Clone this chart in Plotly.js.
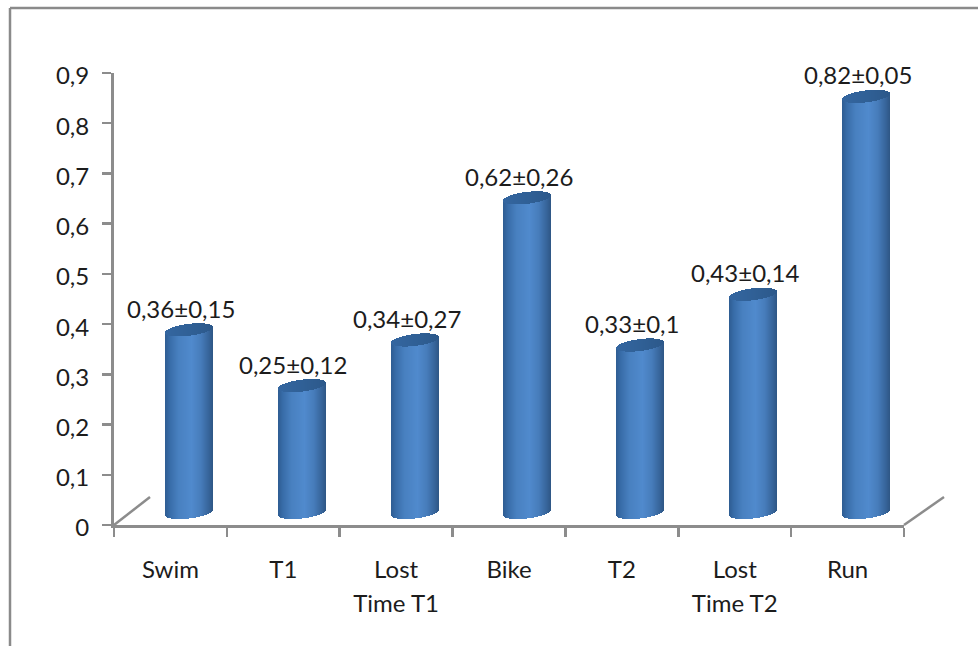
<!DOCTYPE html>
<html><head><meta charset="utf-8">
<script src="https://cdn.plot.ly/plotly-3.0.1.min.js"></script>
<style>html,body{margin:0;padding:0;background:#fff}</style>
</head><body><div id="chart" style="width:978px;height:646px"></div>
<script>
const categories = ["Swim","T1","Lost Time T1","Bike","T2","Lost Time T2","Run"];
const tickLines = [["Swim"],["T1"],["Lost","Time T1"],["Bike"],["T2"],["Lost","Time T2"],["Run"]];
const values = [0.36,0.25,0.34,0.62,0.33,0.43,0.82];
const errors = ["0,15","0,12","0,27","0,26","0,1","0,14","0,05"];
const labelShift = [-8,-9,-8,-8,-8,-8,-8];

const W=978,H=646,L=114,R=904,T=73,B=525;
const FONT='Lato, "Noto Sans", sans-serif', GREY='#8c8c8c', TXT='#1c1c1c', FS=24;
const pxPerCat=112.8, cx0=189, pxPerUnit=507.5, zeroPy=512.5;
const x2range=[(L-cx0)/pxPerCat,(R-cx0)/pxPerCat];
const y2range=[(zeroPy-B)/pxPerUnit,(zeroPy-T)/pxPerUnit];
const halfW=24/pxPerCat, ell=6/pxPerUnit, tilt=2.8/pxPerUnit, N=48;

function mix(stops,t){
  let i=0; while(i<stops.length-2 && t>stops[i+1][0]) i++;
  const a=stops[i],b=stops[i+1],f=Math.min(1,Math.max(0,(t-a[0])/(b[0]-a[0])));
  const c=[0,1,2].map(k=>Math.round(a[1][k]+(b[1][k]-a[1][k])*f));
  return `rgb(${c[0]},${c[1]},${c[2]})`;
}
const bodyStops=[[0,[46,92,146]],[0.1,[56,108,168]],[0.28,[72,128,192]],[0.55,[80,138,205]],[0.75,[70,124,186]],[0.9,[56,102,156]],[1,[46,86,132]]];
const capStops=[[0,[52,102,160]],[0.5,[48,96,150]],[1,[44,88,138]]];

const bx=[],bb=[],bh=[],bc=[],cx=[],cb=[],ch=[],cc=[];
values.forEach((v,i)=>{
  for(let k=0;k<N;k++){
    const t=(k+0.5)/N,u=2*t-1,s=Math.sqrt(1-u*u),x=i+u*halfW;
    const lo=-ell*s+tilt*u, topFront=v-ell*s+tilt*u, topBack=v+ell*s+tilt*u;
    bx.push(x);bb.push(lo);bh.push(topFront-lo);bc.push(mix(bodyStops,t));
    cx.push(x);cb.push(topFront);ch.push(topBack-topFront);cc.push(mix(capStops,t));
  }
});
const stripW=2*halfW/N;
const traces=[
 {type:'scatter',mode:'none',x:categories,y:values,xaxis:'x',yaxis:'y',hoverinfo:'skip',showlegend:false},
 {type:'bar',x:bx,y:bh,base:bb,width:stripW,marker:{color:bc,line:{width:0}},xaxis:'x2',yaxis:'y2',hoverinfo:'skip',showlegend:false},
 {type:'bar',x:cx,y:ch,base:cb,width:stripW,marker:{color:cc,line:{width:0}},xaxis:'x2',yaxis:'y2',hoverinfo:'skip',showlegend:false}
];
const px=p=>(p-L)/(R-L), py=p=>(B-p)/(B-T);
const line=(x0,y0,x1,y1)=>({type:'line',xref:'paper',yref:'paper',x0:px(x0),y0:py(y0),x1:px(x1),y1:py(y1),line:{color:GREY,width:2.5}});
const frame=c=>({type:'line',xref:'paper',yref:'paper',x0:px(c[0]),y0:py(c[1]),x1:px(c[2]),y1:py(c[3]),line:{color:'#8a8a8a',width:2.5}});
const spanned=ls=>ls.map(s=>`<span style="font-size:${FS}px">${s}</span>`).join('<br>');
const layout={
 width:W,height:H,margin:{l:L,r:W-R,t:T,b:H-B,pad:0},
 paper_bgcolor:'#fff',plot_bgcolor:'rgba(0,0,0,0)',barmode:'overlay',bargap:0,showlegend:false,
 separators:',.',
 font:{family:FONT,size:FS,color:TXT},
 xaxis:{type:'category',categoryarray:categories,categoryorder:'array',range:[-0.5,6.5],tickson:'boundaries',
   tickmode:'array',tickvals:categories,ticktext:tickLines.map(spanned),
   ticks:'outside',ticklen:9,tickwidth:2.5,tickcolor:GREY,showline:true,linecolor:GREY,linewidth:3,showgrid:false,zeroline:false,
   tickfont:{family:FONT,size:25.4,color:TXT},ticklabelstandoff:20,automargin:false},
 yaxis:{range:[0,0.9],dtick:0.1,ticks:'outside',ticklen:9,tickwidth:2.5,tickcolor:GREY,showline:true,linecolor:GREY,linewidth:3,
   showgrid:false,zeroline:false,tickfont:{family:FONT,size:FS,color:TXT},ticklabelstandoff:8,ticklabelshift:3,automargin:false},
 xaxis2:{overlaying:'x',range:x2range,visible:false,fixedrange:true},
 yaxis2:{overlaying:'y',range:y2range,visible:false,fixedrange:true},
 shapes:[line(L,B,150,497),line(R,B,944,497),frame([10,8,978,8]),frame([10,8,10,646])],
 annotations:values.map((v,i)=>({xref:'x2',yref:'y2',x:i,y:v,xshift:labelShift[i],yshift:21.5,showarrow:false,
   xanchor:'center',yanchor:'middle',text:v.toFixed(2).replace('.',',')+'±'+errors[i],font:{family:FONT,size:FS,color:TXT}}))
};
Plotly.newPlot('chart',traces,layout,{displayModeBar:false,staticPlot:true});
</script></body></html>
